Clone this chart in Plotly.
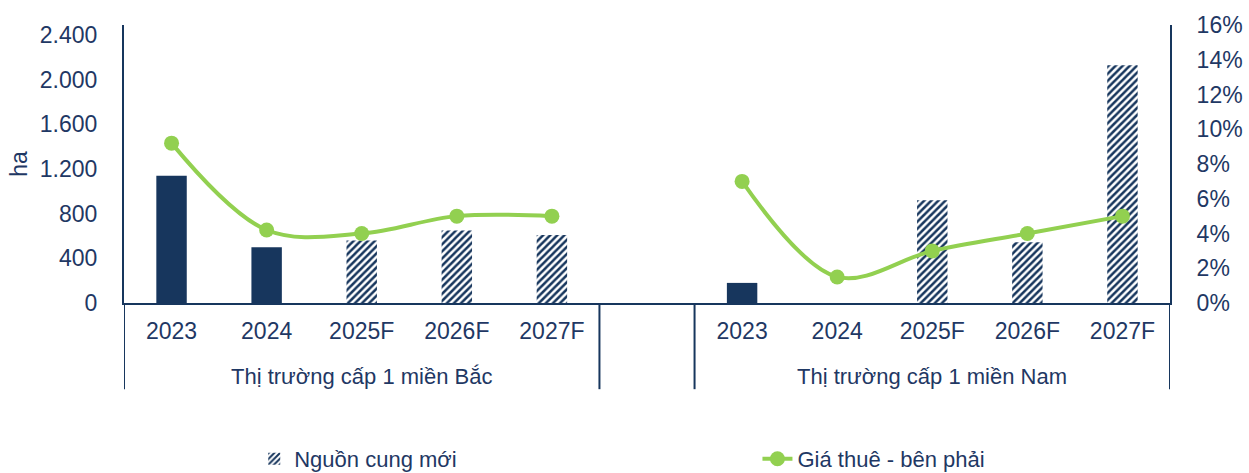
import plotly.graph_objects as go

# Categories: two markets, five years each, with an empty slot between them
years = ["2023", "2024", "2025F", "2026F", "2027F"]
markets = ["Thị trường cấp 1 miền Bắc", "Thị trường cấp 1 miền Nam"]

# New supply (ha)
supply_north = [1140, 500, 560, 650, 610]
supply_south = [180, 0, 920, 545, 2130]
# Whether each year is a forecast (hatched) or actual (solid)
is_forecast = [False, False, True, True, True]

# Rent growth (right axis)
rent_north = [0.092, 0.042, 0.040, 0.050, 0.050]
rent_south = [0.070, 0.015, 0.030, 0.040, 0.050]

NAVY = "#17365D"
TEXT = "#1F3864"
GREEN = "#92D050"
FONT = "Liberation Sans, Arial, sans-serif"

# x positions: 0-4 north, 5 gap, 6-10 south
x_north = list(range(0, 5))
x_south = list(range(6, 11))
x_all = x_north + [5] + x_south
supply_all = supply_north + [None] + supply_south
rent_all = rent_north + [None] + rent_south
forecast_all = is_forecast + [False] + is_forecast

actual_x = [x for x, s, f in zip(x_all, supply_all, forecast_all) if s is not None and not f]
actual_y = [s for x, s, f in zip(x_all, supply_all, forecast_all) if s is not None and not f]
fc_x = [x for x, s, f in zip(x_all, supply_all, forecast_all) if s is not None and f]
fc_y = [s for x, s, f in zip(x_all, supply_all, forecast_all) if s is not None and f]

fig = go.Figure()

fig.add_trace(go.Bar(
    x=actual_x, y=actual_y, width=0.32,
    marker=dict(color=NAVY, line=dict(width=0)),
    showlegend=False, name="Nguồn cung mới",
))
fig.add_trace(go.Bar(
    x=fc_x, y=fc_y, width=0.32,
    marker=dict(color="white", line=dict(width=0),
                pattern=dict(shape="/", fgcolor=NAVY, bgcolor="white",
                             size=5, solidity=0.5, fillmode="replace")),
    name="Nguồn cung mới", legend="legend",
))
fig.add_trace(go.Scatter(
    x=x_all, y=rent_all, yaxis="y2", mode="lines+markers",
    line=dict(color=GREEN, width=4, shape="spline", smoothing=1),
    marker=dict(color=GREEN, size=15),
    connectgaps=False,
    name="Giá thuê - bên phải", legend="legend2",
))

# Group dividers below the axis
for xv in [-0.5, 4.5, 5.5, 10.5]:
    fig.add_shape(type="line", xref="x", yref="paper",
                  x0=xv, x1=xv, y0=0, y1=-0.31,
                  line=dict(color=NAVY, width=2))

# Group labels
for xc, label in zip([2, 8], markets):
    fig.add_annotation(x=xc, y=-0.263, xref="x", yref="paper",
                       text=label, showarrow=False,
                       font=dict(family=FONT, size=22, color=TEXT),
                       xanchor="center", yanchor="middle")

fig.update_layout(
    width=1249, height=473,
    margin=dict(l=124, r=79, t=25, b=170, autoexpand=False),
    plot_bgcolor="white", paper_bgcolor="white",
    barmode="overlay",
    separators=",.",
    font=dict(family=FONT, size=22, color=TEXT),
    xaxis=dict(
        range=[-0.5, 10.5],
        tickvals=x_north + x_south,
        ticktext=years + years,
        showgrid=False, zeroline=False,
        showline=True, linecolor=NAVY, linewidth=2,
        ticks="", ticklabelstandoff=6,
        tickfont=dict(family=FONT, size=23, color=TEXT),
    ),
    yaxis=dict(
        range=[0, 2490], tickvals=[0, 400, 800, 1200, 1600, 2000, 2400],
        tickformat=",d", showgrid=False, zeroline=False,
        showline=True, linecolor=NAVY, linewidth=2,
        ticks="", ticklabelstandoff=20,
        tickfont=dict(family=FONT, size=23, color=TEXT),
        title=dict(text="ha", standoff=6,
                   font=dict(family=FONT, size=23, color=TEXT)),
    ),
    yaxis2=dict(
        range=[0, 0.16], dtick=0.02, tickformat=".0%",
        overlaying="y", side="right",
        showgrid=False, zeroline=False,
        showline=True, linecolor=NAVY, linewidth=2,
        ticks="", ticklabelstandoff=20,
        tickfont=dict(family=FONT, size=23, color=TEXT),
    ),
    legend=dict(x=0.1245, y=-0.561, xanchor="left", yanchor="middle",
                orientation="h", bgcolor="rgba(0,0,0,0)",
                font=dict(family=FONT, size=22, color=TEXT)),
    legend2=dict(x=0.6056, y=-0.561, xanchor="left", yanchor="middle",
                 orientation="h", bgcolor="rgba(0,0,0,0)",
                 font=dict(family=FONT, size=22, color=TEXT)),
)

fig.write_html("out.html")
